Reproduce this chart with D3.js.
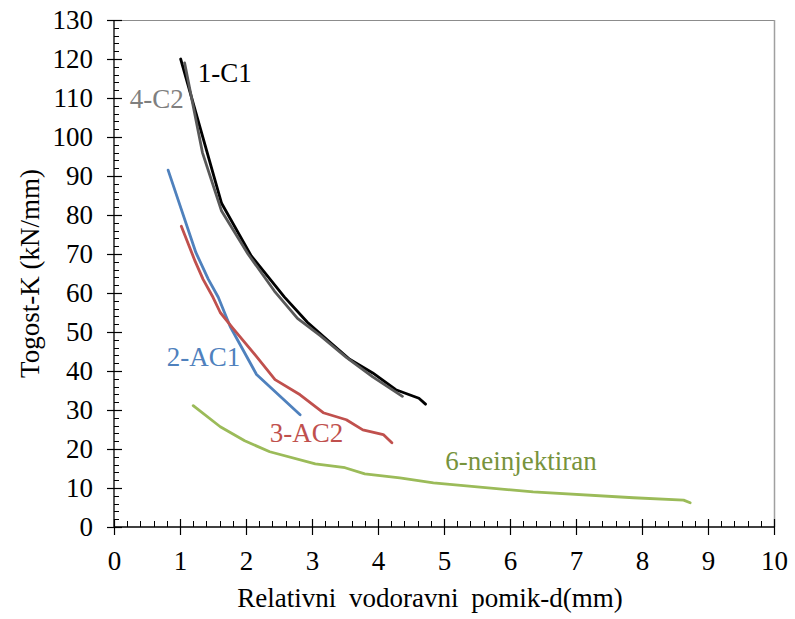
<!DOCTYPE html>
<html><head><meta charset="utf-8">
<script src="https://cdn.jsdelivr.net/npm/d3@7"></script>
<style>body{margin:0;background:#fff}</style>
</head><body><svg id="c" width="795" height="619"></svg>
<script>
const xTicks = [0,1,2,3,4,5,6,7,8,9,10];
const yTicks = [0,10,20,30,40,50,60,70,80,90,100,110,120,130];
const seriesNames = ["1-C1","4-C2","2-AC1","3-AC2","6-neinjektiran"];
const seriesColors = ["#000000","#595959","#4F81BD","#C0504D","#9BBB59"];
const labelColors = ["#000000","#7F7F7F","#4F81BD","#C0504D","#77933C"];
const c1 = [[1.01,120],[1.63,83],[2.08,69.5],[2.58,59],[2.93,52.5],[3.23,48],[3.57,43],[3.92,39.5],[4.27,35.2],[4.62,33],[4.72,31.5]];
const c2 = [[1.07,119],[1.34,96],[1.63,81],[2.03,70],[2.43,60.5],[2.78,53.5],[3.13,49],[3.52,43.5],[3.92,38.5],[4.37,33.5]];
const ac1 = [[0.82,91.5],[1.24,70.4],[1.43,63.5],[1.58,58.9],[1.76,51.4],[2.16,39.1],[2.41,35.2],[2.82,28.8]];
const ac2 = [[1.02,77.1],[1.23,68.1],[1.35,63.5],[1.5,58.9],[1.61,55],[1.79,51.2],[2.16,43.7],[2.44,37.8],[2.82,33.9],[3.17,29.3],[3.52,27.5],[3.77,24.9],[4.08,23.7],[4.21,21.6]];
const nein = [[1.2,31.1],[1.61,25.7],[1.98,22.1],[2.36,19.3],[3.05,16.2],[3.5,15.2],[3.8,13.6],[4.33,12.6],[4.84,11.3],[6.35,9.0],[7.87,7.5],[8.63,6.9],[8.73,6.2]];
const seriesData = [c1,c2,ac1,ac2,nein];
const labelPos = [[1.27,114.1],[0.24,107.4],[0.80,41.3],[2.36,21.8],[5.02,14.6]];

const FONT = "Liberation Serif";
const svg = d3.select("#c");
const L=114,R=774,T=20,B=527;
const x = d3.scaleLinear().domain([0,10]).range([L,R]);
const y = d3.scaleLinear().domain([0,130]).range([B,T]);

svg.append("line").attr("x1",L).attr("x2",R).attr("y1",T+0.5).attr("y2",T+0.5).attr("stroke","#8c8c8c").attr("stroke-width",1.2);
svg.append("line").attr("x1",R+0.5).attr("x2",R+0.5).attr("y1",T).attr("y2",B).attr("stroke","#a0a0a0").attr("stroke-width",1.5);

const gm = svg.append("g").attr("stroke","#000").attr("stroke-width",1);
d3.range(0,130.01,2).forEach(v=>gm.append("line").attr("x1",L).attr("x2",L+5).attr("y1",Math.round(y(v))+0.5).attr("y2",Math.round(y(v))+0.5));
d3.range(0,10.01,0.2).forEach(v=>gm.append("line").attr("y1",B).attr("y2",B-6).attr("x1",Math.round(x(v))+0.5).attr("x2",Math.round(x(v))+0.5));

const ya = svg.append("g").attr("transform",`translate(${L},0)`)
  .call(d3.axisLeft(y).tickValues(yTicks).tickSize(6).tickPadding(15));
ya.selectAll(".tick line").attr("x2",-7).attr("x1",8);
ya.select(".domain").attr("d",`M0,${B}V${T}`);
const xa = svg.append("g").attr("transform",`translate(0,${B})`)
  .call(d3.axisBottom(x).tickValues(xTicks).tickSize(8).tickPadding(16));
xa.selectAll(".tick line").attr("y1",-8).attr("y2",8);
xa.select(".domain").attr("d",`M${L},0H${R}`);
svg.selectAll("g").attr("font-family",FONT);
svg.selectAll(".tick text").attr("font-size",27).attr("font-family",FONT).attr("fill","#000");
svg.selectAll(".domain").attr("stroke","#000").attr("stroke-width",1.3);
svg.selectAll(".tick line").attr("stroke","#000").attr("stroke-width",1.2);

const line = d3.line().x(d=>x(d[0])).y(d=>y(d[1]));
seriesData.forEach((d,i)=>{
  svg.append("path").attr("d",line(d)).attr("fill","none").attr("stroke",seriesColors[i])
    .attr("stroke-width",2.8).attr("stroke-linejoin","round").attr("stroke-linecap","round");
});
seriesNames.forEach((n,i)=>{
  svg.append("text").attr("x",x(labelPos[i][0])).attr("y",y(labelPos[i][1])).attr("fill",labelColors[i])
    .attr("font-family",FONT).attr("font-size",27).text(n);
});

svg.append("text").attr("transform",`translate(39,${(T+B)/2}) rotate(-90)`).attr("text-anchor","middle")
  .attr("font-family",FONT).attr("font-size",27).text("Togost-K (kN/mm)");
svg.append("text").attr("x",430).attr("y",607).attr("text-anchor","middle").attr("font-size",27)
  .attr("font-family",FONT).style("word-spacing","6px").text("Relativni vodoravni pomik-d(mm)");
</script></body></html>
